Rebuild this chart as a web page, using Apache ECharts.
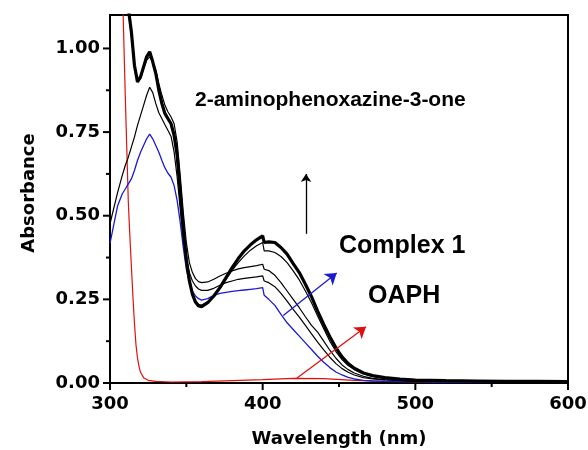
<!DOCTYPE html>
<html>
<head>
<meta charset="utf-8">
<script src="https://cdn.jsdelivr.net/npm/echarts@6/dist/echarts.min.js"></script>
<style>html,body{margin:0;padding:0;background:#fff}#c{width:588px;height:450px}</style>
</head>
<body>
<div id="c"></div>
<script>
// Wavelength grid (nm) shared by the complex/product spectra
var wl = [300,305,308,310,312,314,316,318,320,322,324,326,328,330,332,334,336,338,340,342,344,346,348,350,352,354,356,358,360,364,368,372,376,380,384,388,392,396,400,401,404,408,412,416,420,424,428,432,436,440,444,448,452,456,460,466,472,480,490,500,520,540,560,580,600];

// Initial spectrum (blue)
var specBlue = [0.417,0.53,0.565,0.58,0.595,0.61,0.635,0.665,0.69,0.71,0.73,0.744,0.73,0.71,0.69,0.665,0.643,0.627,0.615,0.59,0.545,0.48,0.405,0.34,0.30,0.275,0.26,0.252,0.248,0.252,0.262,0.268,0.271,0.274,0.276,0.278,0.28,0.282,0.285,0.262,0.25,0.232,0.205,0.18,0.16,0.14,0.12,0.10,0.08,0.062,0.046,0.033,0.024,0.017,0.012,0.008,0.006,0.005,0.004,0.004,0.003,0.003,0.003,0.003,0.003];

// Intermediate spectra (thin black)
var spec2 = [0.476,0.57,0.62,0.65,0.675,0.705,0.735,0.77,0.80,0.83,0.86,0.884,0.868,0.835,0.808,0.79,0.772,0.755,0.737,0.69,0.615,0.52,0.43,0.37,0.33,0.305,0.29,0.281,0.277,0.277,0.283,0.292,0.30,0.305,0.31,0.313,0.315,0.317,0.32,0.305,0.30,0.288,0.268,0.245,0.22,0.197,0.172,0.147,0.122,0.099,0.077,0.058,0.043,0.032,0.024,0.016,0.012,0.009,0.007,0.005,0.005,0.004,0.004,0.004,0.004];
var spec3 = [1.6,1.4,1.25,1.17,1.11,1.04,0.945,0.90,0.91,0.94,0.965,0.975,0.96,0.935,0.895,0.86,0.83,0.81,0.795,0.775,0.72,0.62,0.51,0.42,0.36,0.33,0.312,0.303,0.30,0.302,0.31,0.32,0.328,0.335,0.341,0.345,0.348,0.351,0.355,0.34,0.336,0.322,0.30,0.275,0.25,0.225,0.198,0.172,0.152,0.125,0.098,0.074,0.054,0.04,0.03,0.02,0.014,0.01,0.008,0.006,0.005,0.005,0.004,0.004,0.004];
var spec4 = [1.6,1.4,1.25,1.17,1.115,1.045,0.948,0.902,0.915,0.945,0.972,0.985,0.962,0.928,0.88,0.84,0.81,0.793,0.778,0.745,0.69,0.585,0.475,0.38,0.31,0.268,0.245,0.235,0.233,0.243,0.26,0.283,0.31,0.337,0.36,0.38,0.397,0.41,0.42,0.395,0.395,0.39,0.378,0.36,0.335,0.308,0.275,0.24,0.20,0.162,0.125,0.094,0.07,0.052,0.04,0.028,0.02,0.014,0.01,0.008,0.006,0.005,0.005,0.004,0.004];

// Final spectra (thick black)
var specFinal = [1.6,1.4,1.25,1.17,1.12,1.05,0.95,0.90,0.915,0.945,0.975,0.99,0.96,0.925,0.875,0.835,0.805,0.79,0.775,0.74,0.68,0.57,0.46,0.37,0.305,0.265,0.242,0.23,0.228,0.24,0.26,0.285,0.315,0.345,0.372,0.395,0.413,0.428,0.44,0.42,0.422,0.42,0.405,0.385,0.357,0.33,0.295,0.258,0.215,0.175,0.138,0.105,0.078,0.058,0.044,0.03,0.022,0.016,0.012,0.009,0.007,0.006,0.005,0.005,0.004];

// OAPH spectrum (red)
var wlRed = [300,304,307,308.5,310,311,312,313,314,315,316,317,318,319,320,322,325,330,340,360,380,400,420,440,460,480,500,550,600];
var specRed = [3.0,2.0,1.4,1.12,0.86,0.7,0.54,0.44,0.35,0.26,0.18,0.115,0.075,0.05,0.032,0.016,0.008,0.005,0.003,0.004,0.007,0.01,0.014,0.013,0.008,0.005,0.004,0.003,0.003];

// Annotation arrows (data coordinates: [start, end])
var arrowUp = [[428.4,0.446],[428.4,0.625]];
var arrowBlue = [[413.5,0.202],[448.5,0.329]];
var arrowRed = [[422.3,0.014],[467.7,0.168]];

// Tick values
var xMajorTicks = [300,400,500,600];
var xMinorTicks = [350,450,550];
var yMajorTicks = [0,0.25,0.5,0.75,1.0];
var yMinorTicks = [0.125,0.375,0.625,0.875];
var yTickStep = 0.25;

function pairs(x, y){ var o=[]; for(var i=0;i<x.length;i++) o.push([x[i],y[i]]); return o; }
function lineS(name, x, y, color, w){
  return {name:name,type:'line',data:pairs(x,y),showSymbol:false,symbol:'none',clip:true,
    lineStyle:{color:color,width:w},itemStyle:{color:color},z:3,animation:false};
}
function arrowS(seg, color, size){
  return {type:'line',data:[],silent:true,animation:false,
    markLine:{silent:true,animation:false,symbol:['none','arrow'],symbolSize:size,
      label:{show:false},lineStyle:{color:color,width:1.3,type:'solid'},
      data:[[{coord:seg[0]},{coord:seg[1]}]]}};
}
function font(){ return {fontFamily:'DejaVu Sans',fontWeight:'bold',fontSize:18,color:'#000'}; }

var xMin = xMajorTicks[0], xMax = xMajorTicks[xMajorTicks.length-1];
var yMin = 0, yMax = 1.1;

// Tick marks drawn through the axes' own scales (axis: 0 = x, 1 = y; len in px)
var tickData = [];
xMajorTicks.forEach(function(v){ tickData.push([v, yMin, 0, 7]); });
xMinorTicks.forEach(function(v){ tickData.push([v, yMin, 0, 4]); });
yMajorTicks.forEach(function(v){ tickData.push([xMin, v, 1, 7]); });
yMinorTicks.forEach(function(v){ tickData.push([xMin, v, 1, 4]); });

var tickSeries = {
  type:'custom', silent:true, clip:false, z:10, animation:false,
  data: tickData,
  encode:{x:0,y:1},
  renderItem:function(params, api){
    var p = api.coord([api.value(0), api.value(1)]);
    var kind = api.value(2), len = api.value(3);
    var shape = kind === 0 ? {x1:p[0],y1:p[1],x2:p[0],y2:p[1]+len}
                           : {x1:p[0]-len,y1:p[1],x2:p[0],y2:p[1]};
    return {type:'line', shape:shape, style:{stroke:'#000', lineWidth:2}};
  }
};

var chart = echarts.init(document.getElementById('c'), null, {renderer:'canvas'});
var lbX = font(); lbX.margin = 12;
var lbY = font(); lbY.margin = 10; lbY.showMaxLabel = false; lbY.formatter = function(v){return v.toFixed(2);};
var nmY = font(); nmY.padding = [0,0,0,12];
chart.setOption({
  animation:false,
  grid:{left:110,right:20,top:15,bottom:67,outerBoundsMode:'none',show:true,borderColor:'#000',borderWidth:2,backgroundColor:'rgba(0,0,0,0)'},
  xAxis:{type:'value',min:xMin,max:xMax,interval:100,
    name:'Wavelength (nm)',nameLocation:'middle',nameGap:47,
    nameTextStyle:font(),
    axisLine:{show:true,lineStyle:{color:'#000',width:2}},
    axisTick:{show:false},
    minorTick:{show:false},
    axisLabel:lbX,
    splitLine:{show:false}},
  yAxis:{type:'value',min:yMin,max:yMax,interval:yTickStep,
    name:'Absorbance',nameLocation:'middle',nameGap:72,nameRotate:90,
    nameTextStyle:nmY,
    axisLine:{show:true,lineStyle:{color:'#000',width:2}},
    axisTick:{show:false},
    minorTick:{show:false},
    axisLabel:lbY,
    splitLine:{show:false}},
  series:[
    lineS('OAPH', wlRed, specRed, '#e01010', 1.2),
    lineS('t0', wl, specBlue, '#1a1ad0', 1.3),
    lineS('t1', wl, spec2, '#000', 1.2),
    lineS('t2', wl, spec3, '#000', 1.2),
    lineS('t3', wl, spec4, '#000', 1.2),
    lineS('final', wl, specFinal, '#000', 3.2),
    arrowS(arrowUp, '#000', 8),
    arrowS(arrowBlue, '#1a1ad0', 11),
    arrowS(arrowRed, '#e01010', 11),
    tickSeries
  ],
  graphic:[
    {type:'text',x:195,y:100,style:{text:'2-aminophenoxazine-3-one',font:'bold 21px "Liberation Sans", Arial, sans-serif',fill:'#000',textAlign:'left',textVerticalAlign:'middle'}},
    {type:'text',x:339,y:246,style:{text:'Complex 1',font:'bold 25px "Liberation Sans", Arial, sans-serif',fill:'#000',textAlign:'left',textVerticalAlign:'middle'}},
    {type:'text',x:368,y:296,style:{text:'OAPH',font:'bold 25px "Liberation Sans", Arial, sans-serif',fill:'#000',textAlign:'left',textVerticalAlign:'middle'}}
  ]
});
</script>
</body>
</html>
